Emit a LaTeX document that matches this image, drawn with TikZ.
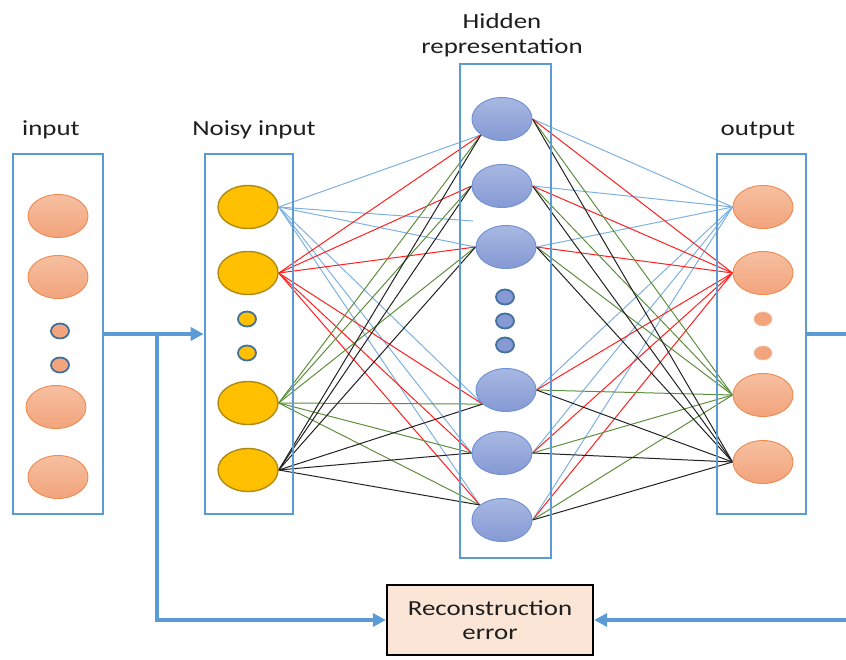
\documentclass[tikz,border=0pt]{standalone}
\usepackage{fontspec}
\setmainfont{Carlito}
\usetikzlibrary{arrows.meta,shapes.geometric,backgrounds}
\definecolor{boxblue}{HTML}{5B9BD5}
\definecolor{cblue}{HTML}{7FB1E0}
\definecolor{cred}{HTML}{FF2020}
\definecolor{cgreen}{HTML}{5E8F3E}
\definecolor{cblack}{HTML}{222222}
\definecolor{ortop}{HTML}{F6BFA0}
\definecolor{orbot}{HTML}{F2A47C}
\definecolor{orline}{HTML}{EE8A50}
\definecolor{yelfill}{HTML}{FFC000}
\definecolor{yelline}{HTML}{B08A10}
\definecolor{hitop}{HTML}{A8B8E2}
\definecolor{hibot}{HTML}{8599D4}
\definecolor{hiline}{HTML}{7393D4}
\definecolor{dotline}{HTML}{41719C}
\definecolor{reconfill}{HTML}{FBE5D6}
\definecolor{txt}{HTML}{1E1E1E}
\begin{document}
\begin{tikzpicture}[x=1pt,y=-1pt,
  panel/.style={draw=boxblue,line width=2.6pt,rectangle,inner sep=0pt},
  bigell/.style={ellipse,minimum width=60pt,minimum height=43pt,inner sep=0pt},
  inell/.style={bigell,draw=orline,line width=0.9pt,top color=ortop,bottom color=orbot},
  nell/.style={bigell,draw=yelline,line width=1.4pt,fill=yelfill},
  hell/.style={bigell,draw=hiline,line width=1pt,top color=hitop,bottom color=hibot},
  smalldot/.style={ellipse,minimum width=18pt,minimum height=15pt,inner sep=0pt,line width=1.8pt,draw=dotline},
  lbl/.style={font=\fontsize{21.5}{25}\selectfont,text=txt,xscale=1.25,anchor=base,inner sep=0pt},
  conn/.style={line width=1pt},
  flow/.style={draw=boxblue,line width=3.2pt,-{Triangle[length=13pt,width=13pt]}},
  flowline/.style={draw=boxblue,line width=3.2pt}
]
\useasboundingbox (0,0) rectangle (846,659);

% panels
\node[panel,minimum width=90pt,minimum height=360pt] (inbox) at (58,334) {};
\node[panel,minimum width=88pt,minimum height=360pt] (nbox) at (249,334) {};
\node[panel,minimum width=91pt,minimum height=494pt] (hbox) at (505.5,311) {};
\node[panel,minimum width=89pt,minimum height=360pt] (obox) at (761.5,334) {};

% labels
\node[lbl] (linput) at (51,135) {input};
\node[lbl] (lnoisy) at (254,135) {Noisy input};
\node[lbl] (loutput) at (758,135) {output};
\node[lbl,align=center] (lhidden) at (502,53) {Hidden\\representation};

% input layer
\node[inell] (i1) at (58,216) {};
\node[inell] (i2) at (58,277) {};
\node[smalldot,fill=orbot] (id1) at (60,331) {};
\node[smalldot,fill=orbot] (id2) at (60,365) {};
\node[inell] (i3) at (56,407) {};
\node[inell] (i4) at (58,477) {};

% noisy layer
\node[nell] (n1) at (248,207) {};
\node[nell] (n2) at (248,273) {};
\node[smalldot,fill=yelfill] (nd1) at (247,319) {};
\node[smalldot,fill=yelfill] (nd2) at (247,353) {};
\node[nell] (n3) at (248,403) {};
\node[nell] (n4) at (248,470) {};

% hidden layer
\node[hell] (h1) at (502,119) {};
\node[hell] (h2) at (502,186) {};
\node[hell] (h3) at (506,247) {};
\node[smalldot,fill=hibot] (hd1) at (505,297) {};
\node[smalldot,fill=hibot] (hd2) at (505,321) {};
\node[smalldot,fill=hibot] (hd3) at (505,345) {};
\node[hell] (h4) at (506,390) {};
\node[hell] (h5) at (502,453) {};
\node[hell] (h6) at (502,520) {};

% output layer
\node[inell] (o1) at (763,207) {};
\node[inell] (o2) at (763,273) {};
\node[ellipse,minimum width=18pt,minimum height=14pt,inner sep=0pt,fill=orbot,draw=ortop,line width=0.6pt] (od1) at (763,319) {};
\node[ellipse,minimum width=18pt,minimum height=14pt,inner sep=0pt,fill=orbot,draw=ortop,line width=0.6pt] (od2) at (763,353) {};
\node[inell] (o3) at (763,395) {};
\node[inell] (o4) at (763,462) {};

% reconstruction box
\node[draw=black,line width=2.2pt,fill=reconfill,minimum width=206pt,minimum height=70pt,inner sep=0pt,align=center,font=\fontsize{21.5}{24}\selectfont,text=txt] (recon) at (490,620) {\scalebox{1.25}[1]{Reconstruction}\\\scalebox{1.25}[1]{error}};

\coordinate (stray) at (473,221);
\coordinate (br) at (157,336);
\coordinate (rout) at (846,335);
\coordinate (rin) at (846,620);

\begin{pgfonlayer}{background}
  % noisy -> hidden
  \foreach \t/\a in {h1/217,h3/180,h4/211,h5/180,h6/146}
    \draw[conn,cblue] (n1.east) -- (\t.\a);
  \draw[conn,cblue] (n1.east) -- (stray);
  \foreach \s/\c in {n2/cred,n3/cgreen,n4/cblack}
    \foreach \t/\a in {h1/217,h2/180,h3/180,h4/211,h5/180,h6/146}
      \draw[conn,\c] (\s.east) -- (\t.\a);
  % hidden -> output
  \foreach \t/\c in {o1/cblue,o2/cred,o3/cgreen,o4/cblack}
    \foreach \s in {h1,h2,h3,h4,h5,h6}
      \draw[conn,\c] (\s.east) -- (\t.west);
\end{pgfonlayer}

% flows
\draw[flow] (inbox.east) -- (nbox.west);
\draw[flow] (br) |- (recon.west);
\draw[flowline] (obox.east) -- (obox.east -| rout);
\draw[flow] (rin) -- (recon.east);
\end{tikzpicture}
\end{document}
